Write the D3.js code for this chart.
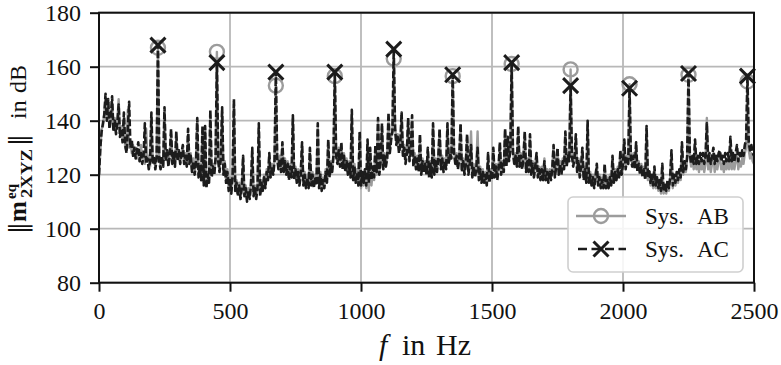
<!DOCTYPE html>
<html><head><meta charset="utf-8">
<script src="https://cdn.jsdelivr.net/npm/d3@7"></script>
<style>body{margin:0;background:#fff}svg{display:block}</style>
</head><body>
<svg id="c" width="781" height="365"></svg>
<script>
// ---- data (5 Hz resolution, 0 .. 2500 Hz) ----
const freqStep = 5;
const sysAC = [
120,130,136,139,142,150,140,148,137,141,149,136,140,135,139,146,134,137,132,143,
131,128,137,147,130,133,127,130,126,129,132,125,128,124,127,139,124,126,122,125,
143,124,127,122,126,168,125,122,127,123,145,125,129,123,127,137,124,128,123,136,
125,129,124,128,131,124,127,123,137,124,127,121,125,120,124,141,119,123,118,138,
116,138,115,120,117,144,119,123,120,126,161.5,125,121,126,145,120,124,117,121,114,
118,113,120,148,114,117,112,116,111,115,127,112,115,110,114,111,116,130,112,115,
111,115,139,112,117,114,119,115,121,118,128,119,123,120,125,158,126,122,126,121,
132,121,125,120,124,118,123,119,142,118,122,117,121,116,120,132,116,120,115,119,
115,130,116,120,115,119,116,139,115,120,114,118,115,121,117,133,119,124,121,127,
158,127,124,129,123,132,122,127,121,125,120,124,119,144,118,123,117,121,116,136,
116,121,117,122,116,133,117,130,118,123,119,131,121,141,120,125,139,122,127,123,
126,143,128,133,136,166.5,137,131,134,128,131,143,127,130,124,128,141,125,128,142,
123,127,122,126,121,135,120,125,121,124,120,130,119,124,119,139,120,125,121,126,
137,122,126,121,125,122,139,124,128,126,157,128,124,127,122,126,139,121,125,120,
124,135,120,124,131,119,123,119,122,130,118,122,117,121,117,120,116,128,117,121,
118,130,119,123,118,122,132,120,124,121,137,123,134,125,129,161.5,128,124,127,123,
138,123,127,122,126,136,121,125,121,135,120,124,119,123,128,119,122,118,122,118,
125,118,121,117,121,118,122,131,119,123,130,120,124,120,125,122,136,123,127,125,
153,127,123,126,135,121,125,119,123,130,118,122,117,140,117,120,116,119,115,119,
124,116,119,115,118,115,124,115,118,115,119,116,127,117,121,118,122,119,129,120,
124,133,122,126,124,152,126,123,127,122,132,121,124,120,123,119,122,118,138,119,
122,117,120,116,123,116,119,115,118,114,124,114,117,114,118,115,119,129,116,120,
117,121,118,122,119,132,121,125,122,127,157.5,128,124,127,124,133,124,127,124,128,
125,128,124,127,139,125,128,124,127,130,124,127,125,128,129,125,127,124,128,125,
128,125,134,125,128,125,128,131,125,128,126,129,127,131,133,156.5,132,129,131,128,
127];
const sysAB = [
119,129,137,138,143,148,141,147,138,142,147,137,141,136,140,148,135,138,133,141,
130,129,144,130,132,128,131,127,130,126,129,125,131,126,128,124,137,125,127,123,
141,125,126,123,127,167,126,123,126,124,143,126,128,124,128,135,125,127,124,134,
126,128,125,127,130,125,128,124,135,125,128,122,126,121,125,140,120,124,119,136,
117,137,116,121,118,142,120,124,121,127,165.5,126,122,127,143,121,125,118,122,115,
119,114,121,146,115,118,113,117,112,116,126,113,116,111,115,112,117,128,113,116,
112,116,137,113,118,115,120,116,122,119,127,120,124,121,126,153,127,123,127,122,
131,122,126,121,125,119,124,120,141,119,123,118,122,117,121,131,117,121,116,120,
116,129,117,121,116,120,117,138,116,121,115,119,116,122,118,132,120,125,122,128,
156.5,128,125,130,124,131,123,128,122,126,121,125,120,142,119,124,118,122,117,134,
115,120,116,121,115,131,114,129,116,122,118,130,120,140,121,126,138,123,128,124,
127,141,129,134,137,163,138,132,135,129,132,142,128,131,125,129,140,126,129,140,
124,128,123,127,122,134,121,126,122,125,121,129,120,125,120,138,121,126,122,127,
136,123,127,122,126,123,138,125,129,127,156.5,129,125,128,123,127,138,122,126,121,
125,134,121,125,136,120,124,120,123,136,119,123,118,122,118,121,117,127,118,122,
119,129,120,124,119,123,131,121,125,122,136,124,133,126,130,161,129,125,128,124,
137,124,128,123,127,135,122,126,122,134,121,125,120,124,127,120,123,119,123,119,
126,119,122,118,122,119,123,130,120,124,129,121,125,121,126,123,135,124,128,126,
159,128,124,127,134,122,126,120,124,129,119,123,118,139,118,121,117,120,116,120,
123,117,120,116,119,116,123,116,119,116,120,117,126,118,122,119,123,120,128,121,
125,132,123,127,125,153.5,127,124,128,123,131,122,125,121,124,120,123,119,137,118,
121,116,119,115,122,115,118,114,117,113,123,113,116,113,117,114,118,128,115,119,
116,120,117,121,118,131,120,124,121,126,157,127,123,126,122,131,122,125,121,125,
122,125,121,124,141,122,125,121,124,128,121,124,122,125,127,122,124,121,125,122,
125,122,132,122,125,122,125,129,122,125,123,126,124,128,130,154.5,129,126,128,125,
124];
const peakFreq = [225,450,675,900,1125,1350,1575,1800,2025,2250,2475];
const peakAB   = [167,165.5,153,156.5,163,156.5,161,159,153.5,157,154.5];
const peakAC   = [168,161.5,158,158,166.5,157,161.5,153,152,157.5,156.5];
const xTicks = [0,500,1000,1500,2000,2500];
const yTicks = [80,100,120,140,160,180];
const seriesNames = ["Sys.  AB","Sys.  AC"];

// ---- layout ----
const L = 99, R = 754, T = 12.7, B = 282.7;
const x = d3.scaleLinear().domain([0,2500]).range([L,R]);
const y = d3.scaleLinear().domain([80,180]).range([B,T]);
const svg = d3.select("#c");
const serif = "'Liberation Serif','Times New Roman',serif";
const grey = "#9c9c9c", dark = "#1c1c1c";

// grid
const g = svg.append("g");
g.selectAll(".gx").data(xTicks).join("line")
  .attr("x1",d=>x(d)).attr("x2",d=>x(d)).attr("y1",T).attr("y2",B)
  .attr("stroke","#b8b8b8").attr("stroke-width",1.8);
g.selectAll(".gy").data(yTicks).join("line")
  .attr("x1",L).attr("x2",R).attr("y1",d=>y(d)).attr("y2",d=>y(d))
  .attr("stroke","#b8b8b8").attr("stroke-width",1.8);

svg.append("clipPath").attr("id","clip").append("rect")
  .attr("x",L).attr("y",T).attr("width",R-L).attr("height",B-T);

const line = d3.line().x((d,i)=>x(i*freqStep)).y(d=>y(d));
const plot = svg.append("g").attr("clip-path","url(#clip)");
plot.append("path").datum(sysAB).attr("d",line).attr("fill","none")
  .attr("stroke",grey).attr("stroke-width",2.4).attr("stroke-linejoin","round");
const pk = peakFreq.map((f,i)=>({f,ab:peakAB[i],ac:peakAC[i]}));
plot.selectAll(".cab").data(pk).join("circle")
  .attr("cx",d=>x(d.f)).attr("cy",d=>y(d.ab)).attr("r",7)
  .attr("fill","none").attr("stroke",grey).attr("stroke-width",2.4);
plot.append("path").datum(sysAC).attr("d",line).attr("fill","none")
  .attr("stroke",dark).attr("stroke-width",2.6).attr("stroke-dasharray","7,2.5")
  .attr("stroke-linejoin","round");
const xs = 7.5;
const cross = (cx,cy)=>`M${cx-xs},${cy-xs}L${cx+xs},${cy+xs}M${cx-xs},${cy+xs}L${cx+xs},${cy-xs}`;
svg.selectAll(".xac").data(pk).join("path")
  .attr("d",d=>cross(x(d.f),y(d.ac))).attr("stroke",dark).attr("stroke-width",3).attr("fill","none");

// axes
const ax = svg.append("g").attr("transform",`translate(0,${B})`)
  .call(d3.axisBottom(x).tickValues(xTicks).tickSize(9).tickPadding(12).tickFormat(d3.format("d")));
const ay = svg.append("g").attr("transform",`translate(${L},0)`)
  .call(d3.axisLeft(y).tickValues(yTicks).tickSize(9).tickPadding(9).tickFormat(d3.format("d")));
[ax,ay].forEach(a=>{
  a.attr("font-family",null).attr("font-size",null);
  a.select(".domain").remove();
  a.selectAll(".tick line").attr("stroke","#111").attr("stroke-width",2);
  a.selectAll("text").style("font-family",serif).style("font-size","24px").attr("fill","#111");
});
ax.selectAll("text").attr("dy","0.62em");
ay.selectAll("text").attr("dy","0.33em");

// frame
svg.append("rect").attr("x",L).attr("y",T).attr("width",R-L).attr("height",B-T)
  .attr("fill","none").attr("stroke","#111").attr("stroke-width",2);

// x label
const xl = svg.append("text").attr("y",355).style("font-family",serif).style("font-size","30px").attr("fill","#111");
xl.append("tspan").attr("x",379).attr("font-style","italic").text("f");
xl.append("tspan").attr("x",402).text("in");
xl.append("tspan").attr("x",436).text("Hz");

// y label (rotated)
const yl = svg.append("g").attr("transform","translate(26,148) rotate(-90)")
  .style("font-family",serif).attr("fill","#111");
yl.append("text").attr("x",-86).attr("y",0).style("font-size","24px").style("font-family","'DejaVu Serif',serif").text("\u2016");
yl.append("text").attr("x",-74).attr("y",0).style("font-size","25px").attr("font-weight","bold").text("m");
yl.append("text").attr("x",-51).attr("y",-10).style("font-size","15px").attr("font-weight","bold").text("eq");
yl.append("text").attr("x",-50).attr("y",6).style("font-size","17px").attr("font-weight","bold")
  .attr("textLength",49).attr("lengthAdjust","spacingAndGlyphs").text("2XYZ");
yl.append("text").attr("x",2).attr("y",0).style("font-size","24px").style("font-family","'DejaVu Serif',serif").text("\u2016");
yl.append("text").attr("x",29).attr("y",0).style("font-size","24px").text("in");
yl.append("text").attr("x",55).attr("y",0).style("font-size","24px").text("dB");

// legend
const lg = svg.append("g");
lg.append("rect").attr("x",568).attr("y",197).attr("width",175).attr("height",75).attr("rx",5)
  .attr("fill","#fff").attr("fill-opacity",0.85).attr("stroke","#cfcfcf").attr("stroke-width",1.6);
const rows = [{y:216, name:seriesNames[0], ab:true},{y:249, name:seriesNames[1], ab:false}];
rows.forEach(r=>{
  if (r.ab) {
    lg.append("line").attr("x1",576).attr("x2",626).attr("y1",r.y).attr("y2",r.y)
      .attr("stroke",grey).attr("stroke-width",2.3);
    lg.append("circle").attr("cx",601).attr("cy",r.y).attr("r",7).attr("fill","none")
      .attr("stroke",grey).attr("stroke-width",2.4);
  } else {
    lg.append("line").attr("x1",576).attr("x2",626).attr("y1",r.y).attr("y2",r.y)
      .attr("stroke",dark).attr("stroke-width",2.3).attr("stroke-dasharray","9,4.5").attr("stroke-dashoffset",-2);
    lg.append("path").attr("d",cross(601,r.y)).attr("stroke",dark).attr("stroke-width",3);
  }
  const parts = r.name.split(/\s+/);
  lg.append("text").attr("x",645).attr("y",r.y+8).style("font-family",serif).style("font-size","23px")
    .attr("fill","#111").text(parts[0]);
  lg.append("text").attr("x",697).attr("y",r.y+8).style("font-family",serif).style("font-size","23px")
    .attr("fill","#111").text(parts[1]);
});
</script>
</body></html>
